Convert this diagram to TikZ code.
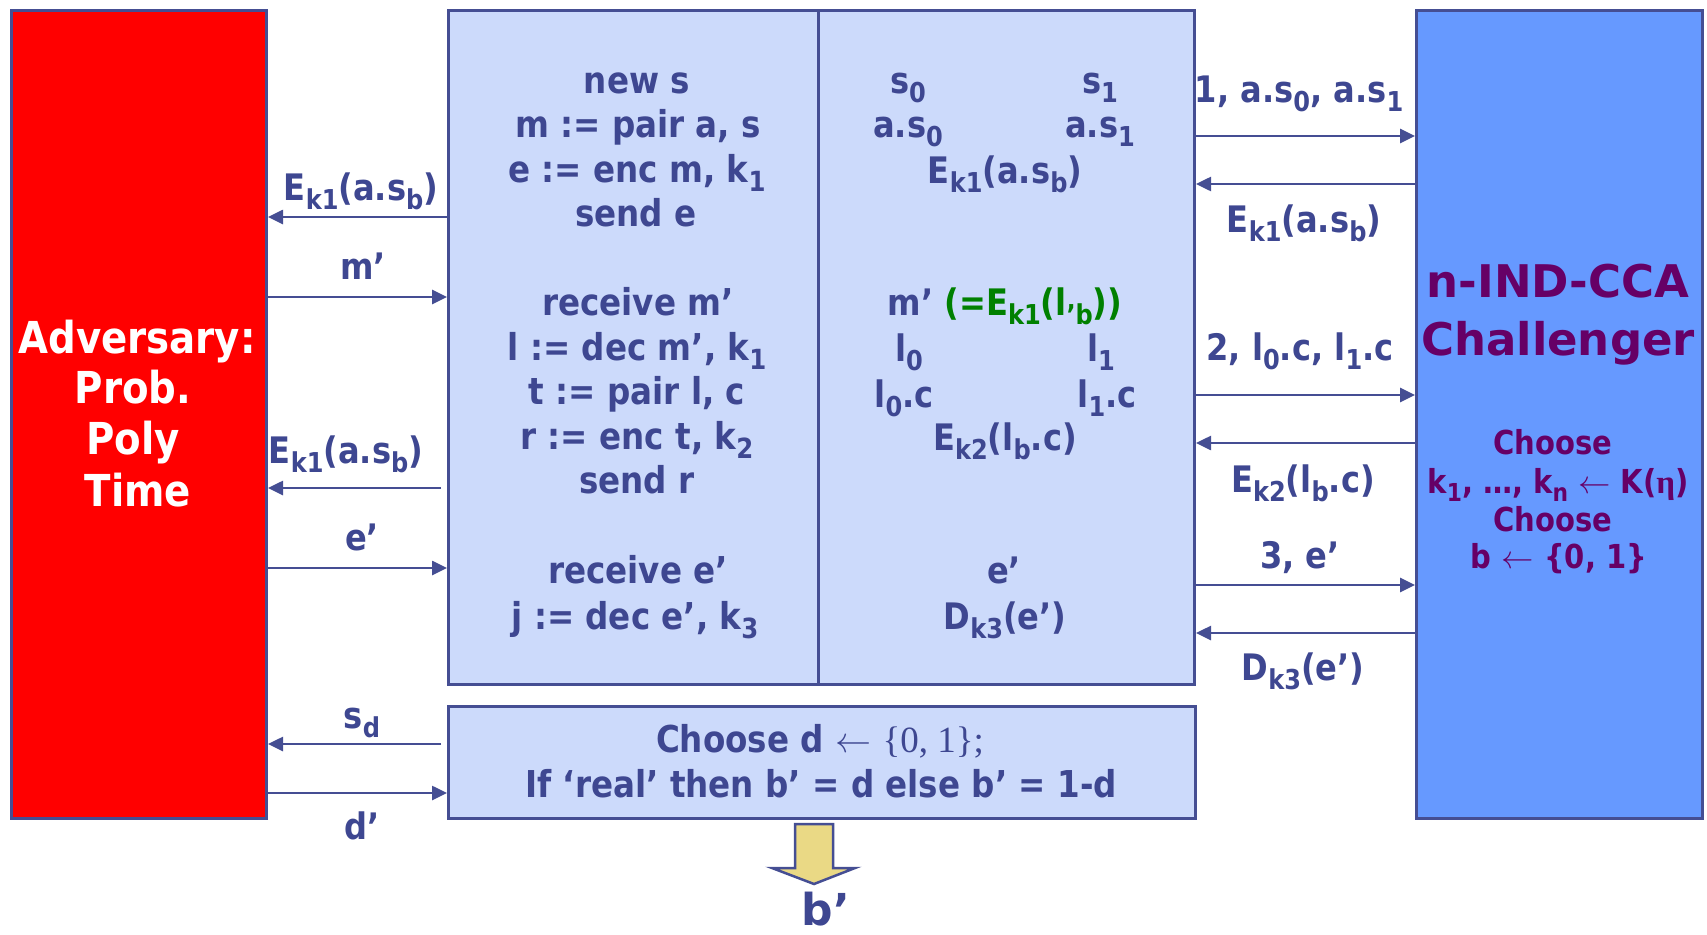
\documentclass[tikz,border=0pt]{standalone}
\usepackage{fontspec}
\usepackage{graphicx}
\setmainfont{DejaVu Sans}[FakeStretch=0.88]
\newfontfamily\widefont{DejaVu Sans}
\newfontfamily\serif{Liberation Serif}
\usetikzlibrary{arrows.meta,calc}
\definecolor{txt}{HTML}{3E4791}
\definecolor{edge}{HTML}{454E93}
\definecolor{lightpanel}{HTML}{CCDAFB}
\definecolor{chalblue}{HTML}{6699FF}
\definecolor{advred}{HTML}{FF0000}
\definecolor{purp}{HTML}{660066}
\definecolor{grn}{HTML}{008000}
\definecolor{yel}{HTML}{EAD985}
\newcommand\sbs[1]{\raisebox{-0.27em}{\scalebox{0.75}{#1}}}
\newcommand\larr[1]{\scalebox{#1}{$\leftarrow$}}
\tikzset{
  panel/.style={draw=edge, line width=3pt, fill=lightpanel, inner sep=0pt, anchor=north west},
  arr/.style={draw=edge, line width=2.6pt, -{Triangle[length=15pt,width=14pt]}},
  lbl/.style={inner sep=0pt, anchor=base, text=txt, font=\fontsize{36.5}{40}\selectfont\bfseries},
  code/.style={lbl, font=\fontsize{37}{40}\selectfont\bfseries},
  midtxt/.style={lbl},
  advtxt/.style={inner sep=0pt, anchor=base, text=white, font=\fontsize{44}{48}\selectfont\bfseries},
  chaltitle/.style={inner sep=0pt, anchor=base, text=purp, font=\widefont\fontsize{45}{48}\selectfont\bfseries},
  chaltxt/.style={inner sep=0pt, anchor=base, text=purp, font=\fontsize{33}{36}\selectfont\bfseries},
}
\begin{document}
\begin{tikzpicture}[x=1pt,y=-1pt]
\useasboundingbox (0,0) rectangle (1707,934);
% boxes
\node[draw=edge, line width=3pt, fill=advred, inner sep=0pt, anchor=north west,
      minimum width=255pt, minimum height=808pt] (adv) at (10,9) {};
\node[draw=edge, line width=3pt, fill=chalblue, inner sep=0pt, anchor=north west,
      minimum width=286pt, minimum height=808pt] (chal) at (1415,9) {};
\node[panel, minimum width=370pt, minimum height=674pt] (proto) at (447,9) {};
\node[panel, minimum width=376pt, minimum height=674pt] (mid) at (817,9) {};
\node[panel, minimum width=747pt, minimum height=112pt] (choose) at (447,705) {};

% adversary text
\node[advtxt] (a1) at (137,353) {Adversary:};
\node[advtxt] (a2) at (133,403) {Prob.};
\node[advtxt] (a3) at (133,454) {Poly};
\node[advtxt] (a4) at (138,506) {Time};

% challenger text
\node[chaltitle] (c1) at (1558,297) {n-IND-CCA};
\node[chaltitle] (c2) at (1558,355) {Challenger};
\node[chaltxt] (c3) at (1553,454) {Choose};
\node[chaltxt] (c4) at (1558,493) {k\sbs{1}, \dots, k\sbs{n} \larr{1.3} K({\serif η})};
\node[chaltxt] (c5) at (1553,531) {Choose};
\node[chaltxt] (c6) at (1559,568) {b \larr{1.3} \{0, 1\}};

% protocol code column
\node[code] (p1) at (637,93) {new s};
\node[code] (p2) at (638,137) {m := pair a, s};
\node[code] (p3) at (637,182) {e := enc m, k\sbs{1}};
\node[code] (p4) at (636,226) {send e};
\node[code] (p5) at (638,315) {receive m’};
\node[code] (p6) at (637,360) {l := dec m’, k\sbs{1}};
\node[code] (p7) at (637,404) {t := pair l, c};
\node[code] (p8) at (637,449) {r := enc t, k\sbs{2}};
\node[code] (p9) at (637,493) {send r};
\node[code] (p10) at (638,583) {receive e’};
\node[code] (p11) at (635,629) {j := dec e’, k\sbs{3}};

% middle column
\node[midtxt] (m1) at (908,93) {s\sbs{0}};
\node[midtxt] (m2) at (1100,93) {s\sbs{1}};
\node[midtxt] (m3) at (908,137) {a.s\sbs{0}};
\node[midtxt] (m4) at (1100,137) {a.s\sbs{1}};
\node[midtxt] (m5) at (1005,183) {E\sbs{k1}(a.s\sbs{b})};
\node[midtxt] (m6) at (1005,315) {m’ \textcolor{grn}{(=E\sbs{k1}(l\sbs{’b}))}};
\node[midtxt] (m7) at (909,361) {l\sbs{0}};
\node[midtxt] (m8) at (1101,361) {l\sbs{1}};
\node[midtxt] (m9) at (904,407) {l\sbs{0}.c};
\node[midtxt] (m10) at (1107,407) {l\sbs{1}.c};
\node[midtxt] (m11) at (1005,450) {E\sbs{k2}(l\sbs{b}.c)};
\node[midtxt] (m12) at (1004,583) {e’};
\node[midtxt] (m13) at (1005,629) {D\sbs{k3}(e’)};

% choose box text
\node[code] (d1) at (820,752) {Choose d \larr{1.45} {\serif\mdseries \{0, 1\};}};
\node[code] (d2) at (821,797) {If ‘real’ then b’ = d else b’ = 1-d};

% left arrows
\draw[arr] (proto.west |- 0,217) -- (adv.east |- 0,217);
\draw[arr] (adv.east |- 0,297) -- (proto.west |- 0,297);
\draw[arr] ($(proto.west |- 0,488)+(-6,0)$) -- (adv.east |- 0,488);
\draw[arr] (adv.east |- 0,568) -- (proto.west |- 0,568);
\draw[arr] ($(choose.west |- 0,744)+(-6,0)$) -- (adv.east |- 0,744);
\draw[arr] (adv.east |- 0,793) -- (choose.west |- 0,793);

% right arrows
\draw[arr] (mid.east |- 0,136) -- (chal.west |- 0,136);
\draw[arr] (chal.west |- 0,184) -- (mid.east |- 0,184);
\draw[arr] (mid.east |- 0,395) -- (chal.west |- 0,395);
\draw[arr] (chal.west |- 0,443) -- (mid.east |- 0,443);
\draw[arr] (mid.east |- 0,585) -- (chal.west |- 0,585);
\draw[arr] (chal.west |- 0,633) -- (mid.east |- 0,633);

% left labels
\node[lbl] (l1) at (361,200) {E\sbs{k1}(a.s\sbs{b})};
\node[lbl] (l2) at (363,279) {m’};
\node[lbl] (l3) at (346,463) {E\sbs{k1}(a.s\sbs{b})};
\node[lbl] (l4) at (362,550) {e’};
\node[lbl] (l5) at (362,728) {s\sbs{d}};
\node[lbl] (l6) at (362,839) {d’};

% right labels
\node[lbl] (r1) at (1299,102) {1, a.s\sbs{0}, a.s\sbs{1}};
\node[lbl] (r2) at (1304,232) {E\sbs{k1}(a.s\sbs{b})};
\node[lbl] (r3) at (1300,360) {2, l\sbs{0}.c, l\sbs{1}.c};
\node[lbl] (r4) at (1303,492) {E\sbs{k2}(l\sbs{b}.c)};
\node[lbl] (r5) at (1300,568) {3, e’};
\node[lbl] (r6) at (1303,680) {D\sbs{k3}(e’)};

% output arrow and b'
\node[inner sep=0pt, anchor=base, text=txt, font=\widefont\fontsize{44}{48}\selectfont\bfseries] (bp) at (826,925) {b’};
\draw[draw=edge, line width=2.5pt, fill=yel, line join=miter]
  (795,824) -- (833,824) -- (833,868) -- (855,868) -- (814,884) -- (772,868) -- (795,868) -- cycle;
\end{tikzpicture}
\end{document}
